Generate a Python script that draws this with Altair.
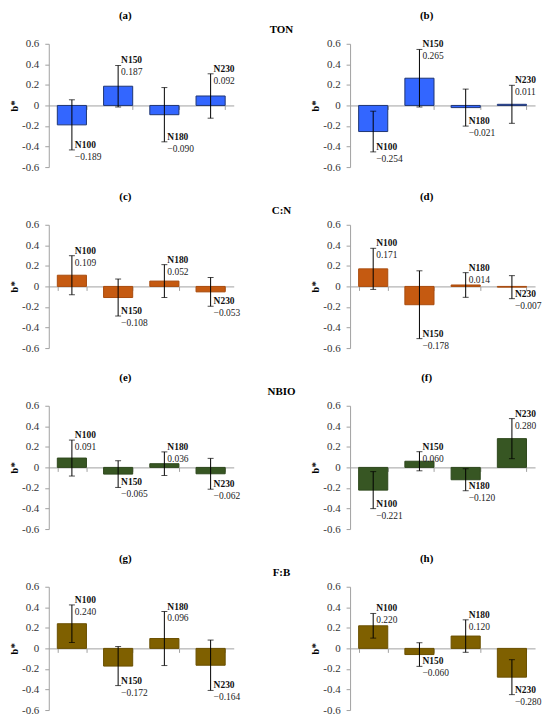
import altair as alt
import pandas as pd

groups = ["N100", "N150", "N180", "N230"]
row_titles = ["TON", "C:N", "NBIO", "F:B"]
letters = ["(a)", "(b)", "(c)", "(d)", "(e)", "(f)", "(g)", "(h)"]
fills = ["#3366FF", "#C55A11", "#375623", "#7F6000"]
strokes = ["#1F3572", "#A84C0E", "#2E481D", "#6A5000"]

# means (b*) and error half-widths per panel
mean_a = [-0.189, 0.187, -0.090, 0.092]
err_a = [0.244, 0.202, 0.264, 0.216]
mean_b = [-0.254, 0.265, -0.021, 0.011]
err_b = [0.198, 0.280, 0.180, 0.185]
mean_c = [0.109, -0.108, 0.052, -0.053]
err_c = [0.190, 0.180, 0.160, 0.140]
mean_d = [0.171, -0.178, 0.014, -0.007]
err_d = [0.200, 0.330, 0.120, 0.112]
mean_e = [0.091, -0.065, 0.036, -0.062]
err_e = [0.175, 0.130, 0.115, 0.150]
mean_f = [-0.221, 0.060, -0.120, 0.280]
err_f = [0.180, 0.093, 0.107, 0.195]
mean_g = [0.240, -0.172, 0.096, -0.164]
err_g = [0.183, 0.190, 0.263, 0.245]
mean_h = [0.220, -0.060, 0.120, -0.280]
err_h = [0.120, 0.115, 0.158, 0.170]

means = [mean_a, mean_b, mean_c, mean_d, mean_e, mean_f, mean_g, mean_h]
errs = [err_a, err_b, err_c, err_d, err_e, err_f, err_g, err_h]
y_ticks = [-0.6, -0.4, -0.2, 0, 0.2, 0.4, 0.6]

FONT = "Liberation Serif"
W, H = 186, 124
COL_GAP, ROW_GAP = 117, 58
AXIS_GRAY = "#A0A0A0"

XSCALE = alt.Scale(domain=groups, paddingInner=0.37, paddingOuter=0.185)
YSCALE = alt.Scale(domain=[-0.6, 0.6], nice=False)
XAXIS = alt.Axis(
    title=None, labels=False, domainColor=AXIS_GRAY, tickColor=AXIS_GRAY,
    tickBand="extent", offset=-H / 2, tickSize=4, domainWidth=1, tickWidth=1,
)
YAXIS = alt.Axis(
    title="b*", values=y_ticks, grid=False, labelOverlap=False,
    labelExpr="datum.value == 0 ? '0' : replace(format(datum.value, '.1f'), '\u2212', '-')",
    domainColor=AXIS_GRAY, tickColor=AXIS_GRAY, tickSize=4, labelPadding=6,
    domainWidth=1, tickWidth=1,
    labelFont=FONT, labelFontSize=11, labelColor="#333333",
    titleFont=FONT, titleFontSize=11, titleFontWeight="bold", titleColor="#000000",
    titlePadding=2,
)


def X():
    return alt.X("g:N", sort=groups, scale=XSCALE, axis=XAXIS)


def Y(field):
    return alt.Y(field, type="quantitative", scale=YSCALE, axis=YAXIS)


def panel(letter, m, e, fill, stroke, row_title=None):
    df = pd.DataFrame({"g": groups, "b": m, "e": e})
    base = alt.Chart(df).transform_calculate(
        lo="datum.b - datum.e",
        hi="datum.b + datum.e",
        ly="datum.b >= 0 ? datum.b + datum.e : datum.b - datum.e",
        lab="format(datum.b, '.3f')",
    )
    bars = base.mark_bar(color=fill, stroke=stroke, strokeWidth=1).encode(x=X(), y=Y("b"))
    rule = base.mark_rule(color="black", strokeWidth=1).encode(x=X(), y=Y("lo"), y2="hi:Q")
    cap_lo = base.mark_tick(color="black", size=6, thickness=1).encode(x=X(), y=Y("lo"))
    cap_hi = base.mark_tick(color="black", size=6, thickness=1).encode(x=X(), y=Y("hi"))
    name = base.mark_text(
        align="left", baseline="middle", dx=3, dy=-5, font=FONT, fontSize=9.5,
        fontWeight="bold", color="#111111",
    ).encode(x=X(), y=Y("ly"), text="g:N")
    val = base.mark_text(
        align="left", baseline="middle", dx=3, dy=7, font=FONT, fontSize=9.5,
        color="#222222",
    ).encode(x=X(), y=Y("ly"), text="lab:N")

    heads = pd.DataFrame({"t": [letter]})
    letter_txt = alt.Chart(heads).mark_text(
        font=FONT, fontSize=11, fontWeight="bold", color="#000000", baseline="middle",
        align="center",
    ).encode(x=alt.value(77), y=alt.value(-28), text="t:N")
    layers = [bars, rule, cap_lo, cap_hi, name, val, letter_txt]
    if row_title is not None:
        rt = pd.DataFrame({"t": [row_title]})
        layers.append(
            alt.Chart(rt).mark_text(
                font=FONT, fontSize=11, fontWeight="bold", color="#000000",
                baseline="middle", align="center",
            ).encode(x=alt.value(W + 48), y=alt.value(-14), text="t:N")
        )
    return alt.layer(*layers).properties(width=W, height=H)


panels = []
for r in range(4):
    panels.append(panel(letters[2 * r], means[2 * r], errs[2 * r], fills[r], strokes[r],
                        row_title=row_titles[r]))
    panels.append(panel(letters[2 * r + 1], means[2 * r + 1], errs[2 * r + 1], fills[r], strokes[r]))

chart = alt.concat(
    *panels, columns=2, spacing={"row": ROW_GAP, "column": COL_GAP}, bounds="flush"
).properties(
    padding={"left": 0, "top": 0, "right": 0, "bottom": -1}
).configure_view(stroke=None)

chart.save("out.html", embed_options={"renderer": "svg", "actions": False})
